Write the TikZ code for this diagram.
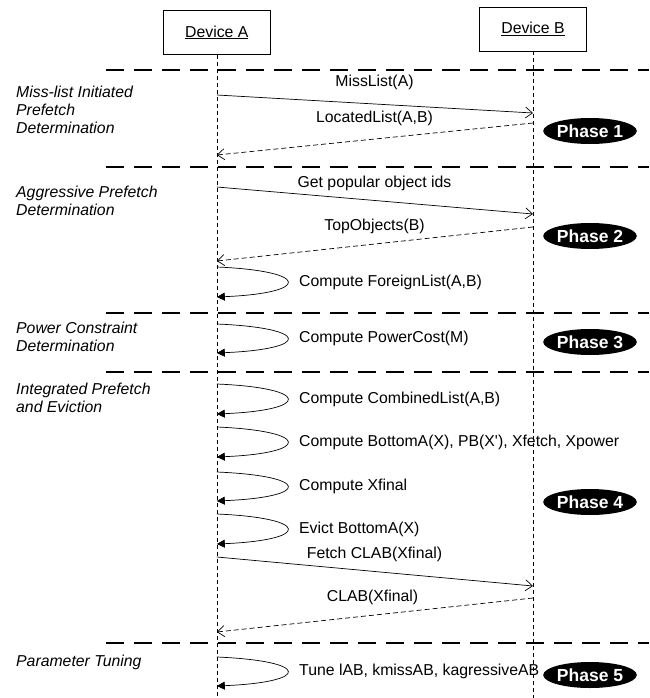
\documentclass[tikz,border=0pt]{standalone}
\usepackage{fontspec}
\setmainfont{Liberation Sans}
\usetikzlibrary{arrows.meta,shapes.geometric}
\begin{document}
\begin{tikzpicture}[x=1pt,y=-1pt,
  txt/.style={font=\fontsize{15.8}{18}\selectfont, inner sep=0pt},
  devbox/.style={draw, line width=0.8pt, minimum width=107pt, minimum height=44pt, inner sep=0pt, font=\fontsize{15.8}{18}\selectfont},
  life/.style={line width=0.6pt, dash pattern=on 4pt off 3pt},
  sepline/.style={line width=1.6pt, dash pattern=on 18pt off 10pt},
  msg/.style={line width=0.7pt, -{Straight Barb[length=7pt,width=11pt]}},
  reply/.style={msg, dash pattern=on 5pt off 3pt},
  selfloop/.style={line width=0.7pt, -{Triangle[length=8pt,width=8pt]}},
  phase/.style={ellipse, fill=black, text=white, minimum width=86pt, minimum height=26pt, inner sep=0pt, font=\bfseries\fontsize{17.5}{18}\selectfont},
  phlabel/.style={font=\itshape\fontsize{15.8}{18}\selectfont, align=left, anchor=west, inner sep=0pt}]
\useasboundingbox (0,0) rectangle (649,698);

% devices and lifelines
\node[devbox] (A) at (216.8,32.5) {\underline{Device A}};
\node[devbox] (B) at (533,29) {\underline{Device B}};
\coordinate (Aend) at (216.8,698);
\coordinate (Bend) at (533,698);
\draw[life] (A.south) -- (Aend);
\draw[life] (B.south) -- (Bend);

% separators
\foreach \y/\n in {70/s1,167/s2,313/s3,372/s4,643/s5}{
  \coordinate (\n a) at (106,\y);
  \coordinate (\n b) at (649,\y);
  \draw[sepline] (\n a) -- (\n b);
}

% phase descriptions
\node[phlabel] (d1) at (16,110) {Miss-list Initiated\\Prefetch\\Determination};
\node[phlabel] (d2) at (16,201) {Aggressive Prefetch\\Determination};
\node[phlabel] (d3) at (16,337) {Power Constraint\\Determination};
\node[phlabel] (d4) at (16,398) {Integrated Prefetch\\and Eviction};
\node[phlabel] (d5) at (16,662) {Parameter Tuning};

% phase ellipses
\node[phase] (p1) at (590,131) {Phase 1};
\node[phase] (p2) at (590,236) {Phase 2};
\node[phase] (p3) at (590,342) {Phase 3};
\node[phase] (p4) at (590,502) {Phase 4};
\node[phase] (p5) at (590,675) {Phase 5};

% Phase 1 messages
\coordinate (m1a) at (216.8,95);  \coordinate (m1b) at (533,113);
\draw[msg] (m1a) -- (m1b);
\node[txt] (l1) at (374.5,82) {MissList(A)};
\coordinate (r1a) at (533,123);  \coordinate (r1b) at (216.8,155);
\draw[reply] (r1a) -- (r1b);
\node[txt] (l2) at (374.5,118) {LocatedList(A,B)};

% Phase 2 messages
\coordinate (m2a) at (216.8,187);  \coordinate (m2b) at (533,214);
\draw[msg] (m2a) -- (m2b);
\node[txt] (l3) at (374.5,183) {Get popular object ids};
\coordinate (r2a) at (533,227);  \coordinate (r2b) at (216.8,261);
\draw[reply] (r2a) -- (r2b);
\node[txt] (l4) at (374.5,226) {TopObjects(B)};

% self loops
\foreach \ya/\yb/\lab/\n in {
  267/297/{Compute ForeignList(A,B)}/f1,
  324/353/{Compute PowerCost(M)}/f2,
  384/414/{Compute CombinedList(A,B)}/f3,
  427/457/{Compute BottomA(X), PB(X\textquotesingle), Xfetch, Xpower}/f4,
  472/501/{Compute Xfinal}/f5,
  514/544/{Evict BottomA(X)}/f6,
  657/686/{Tune lAB, kmissAB, kagressiveAB}/f7}{
  \coordinate (\n s) at (216.8,\ya);
  \coordinate (\n e) at (216.8,\yb);
  \coordinate (\n c) at (311,{\ya+4});
  \coordinate (\n d) at (311,{\yb-4});
  \draw[selfloop] (\n s) .. controls (\n c) and (\n d) .. (\n e);
  \node[txt, anchor=west] (\n t) at (299,{(\ya+\yb)/2}) {\lab};
}

% Phase 4 messages
\coordinate (m3a) at (216.8,557);  \coordinate (m3b) at (533,586);
\draw[msg] (m3a) -- (m3b);
\node[txt] (l5) at (374.5,554) {Fetch CLAB(Xfinal)};
\coordinate (r3a) at (533,598);  \coordinate (r3b) at (216.8,632);
\draw[reply] (r3a) -- (r3b);
\node[txt] (l6) at (372.5,597) {CLAB(Xfinal)};
\end{tikzpicture}
\end{document}
